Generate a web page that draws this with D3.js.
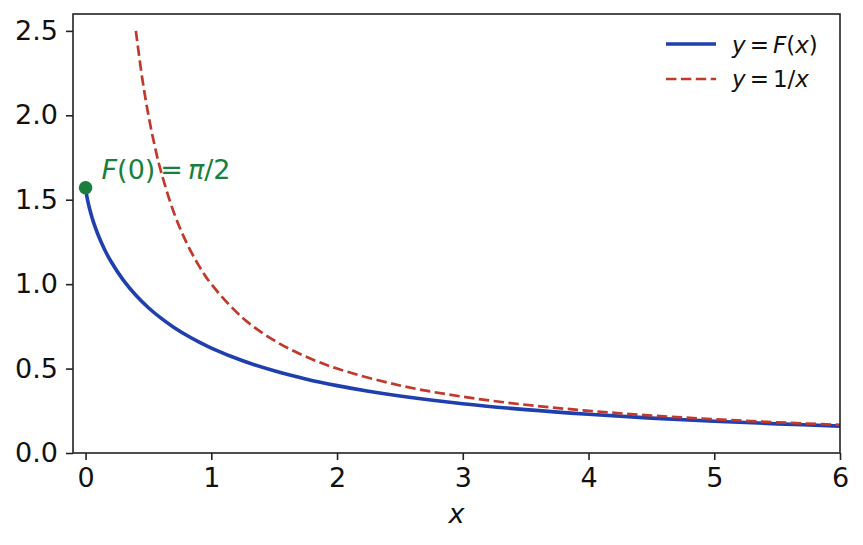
<!DOCTYPE html>
<html><head><meta charset="utf-8">
<script src="https://cdn.jsdelivr.net/npm/d3@7"></script>
<style>
body{margin:0;background:#fff;}
svg{display:block;font-family:"DejaVu Sans",sans-serif;}
</style></head>
<body><svg id="c" width="863" height="545"></svg>
<script>
const xF = [0,0.005,0.01,0.02,0.03,0.05,0.075,0.1,0.15,0.2,0.3,0.4,0.5,0.6,0.7,0.8,0.9,1,1.25,1.5,1.75,2,2.25,2.5,3,3.5,4,4.5,5,5.5,6];
const yF = [1.5708,1.5422,1.5204,1.4838,1.4522,1.3980,1.3407,1.2910,1.2069,1.1369,1.0236,0.9341,0.8605,0.7985,0.7451,0.6987,0.6578,0.6215,0.5460,0.4866,0.4386,0.3990,0.3659,0.3380,0.2920,0.2569,0.2292,0.2067,0.1881,0.1726,0.1593];
const xInv = [0.4,0.45,0.5,0.55,0.6,0.7,0.8,0.9,1,1.25,1.5,1.75,2,2.5,3,3.5,4,4.5,5,5.5,6];
const yInv = [2.5,2.2222,2,1.8182,1.6667,1.4286,1.25,1.1111,1,0.8,0.6667,0.5714,0.5,0.4,0.3333,0.2857,0.25,0.2222,0.2,0.1818,0.1667];
const xTicks = [0,1,2,3,4,5,6];
const yTicks = [0,0.5,1,1.5,2,2.5];
const point = {x:0, y:1.5708};

const L=73,R=840,T=14,B=453;
const svg=d3.select("#c");
const x=d3.scaleLinear().domain([-0.1,6]).range([L,R]);
const y=d3.scaleLinear().domain([0,2.6]).range([B,T]);

svg.append("defs").append("clipPath").attr("id","clip").append("rect")
  .attr("x",L).attr("y",T).attr("width",R-L).attr("height",B-T);

const tickFont=27;
const gx=svg.append("g").attr("transform",`translate(0,${B})`)
  .call(d3.axisBottom(x).tickValues(xTicks).tickFormat(d3.format("d")).tickSizeOuter(0).tickSize(7).tickPadding(8));
const gy=svg.append("g").attr("transform",`translate(${L},0)`)
  .call(d3.axisLeft(y).tickValues(yTicks).tickFormat(d3.format(".1f")).tickSizeOuter(0).tickSize(7).tickPadding(8));
[gx,gy].forEach(g=>{
  g.select(".domain").remove();
  g.selectAll(".tick line").attr("stroke","#222").attr("stroke-width",1.6);
  g.selectAll(".tick text").attr("font-size",tickFont).attr("fill","#111").attr("font-family","DejaVu Sans");
});

const line=d3.line().x(d=>x(d[0])).y(d=>y(d[1])).curve(d3.curveCatmullRom.alpha(0.5));
const plot=svg.append("g").attr("clip-path","url(#clip)");
plot.append("path").datum(xF.map((v,i)=>[v,yF[i]]))
  .attr("d",line).attr("fill","none").attr("stroke","#1f3fae").attr("stroke-width",3.6);
plot.append("path").datum(xInv.map((v,i)=>[v,yInv[i]]))
  .attr("d",line).attr("fill","none").attr("stroke","#c0392b").attr("stroke-width",2.7).attr("stroke-dasharray","10.4,4.5");

svg.append("circle").attr("cx",x(point.x)).attr("cy",y(point.y)).attr("r",6.8).attr("fill","#1a7f3c");

function mtext(g, parts){
  parts.forEach(p=>{
    g.append("tspan").text(p[0]).attr("font-style",p[1]?"italic":"normal").attr("dx",p[2]||0);
  });
}
const ann=svg.append("text").attr("x",x(point.x)+16).attr("y",179).attr("font-size",27).attr("fill","#1a7f3c");
mtext(ann,[["F",1],["(0)",0],["=",0,5],["π",1,5],["/2",0]]);

svg.append("rect").attr("x",L).attr("y",T).attr("width",R-L).attr("height",B-T)
  .attr("fill","none").attr("stroke","#222").attr("stroke-width",1.6);

// legend
const lg=svg.append("g");
lg.append("line").attr("x1",666).attr("x2",716).attr("y1",44).attr("y2",44).attr("stroke","#1f3fae").attr("stroke-width",3.6);
lg.append("line").attr("x1",666).attr("x2",716).attr("y1",79).attr("y2",79).attr("stroke","#c0392b").attr("stroke-width",2.7).attr("stroke-dasharray","10.4,4.5");
const t1=lg.append("text").attr("x",732).attr("y",53).attr("font-size",23).attr("fill","#111");
mtext(t1,[["y",1],["=",0,4],["F",1,4],["(",0],["x",1],[")",0]]);
const t2=lg.append("text").attr("x",732).attr("y",87).attr("font-size",23).attr("fill","#111");
mtext(t2,[["y",1],["=",0,4],["1/",0,4],["x",1]]);

svg.append("text").attr("x",(L+R)/2).attr("y",523).attr("text-anchor","middle")
  .attr("font-size",27).attr("font-style","italic").attr("fill","#111").text("x");
</script></body></html>
